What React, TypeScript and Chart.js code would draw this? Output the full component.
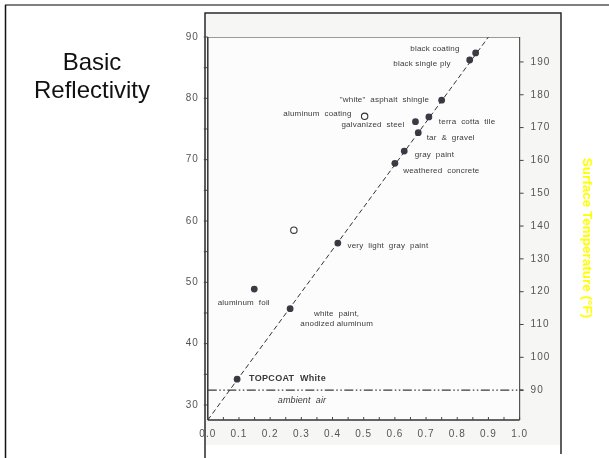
import React, { useEffect, useRef } from 'react';
import { Chart, registerables } from 'chart.js';

Chart.register(...registerables);

// ---- data ----
const materialNames = [
  'black coating',
  'black single ply',
  '"white"  asphalt  shingle',
  'galvanized  steel',
  'terra  cotta  tile',
  'tar  &  gravel',
  'gray  paint',
  'weathered  concrete',
  'very  light  gray  paint',
  'aluminum  foil',
  'white  paint,\nanodized aluminum',
  'TOPCOAT  White',
];
const absorptance = [0.859, 0.84, 0.75, 0.666, 0.709, 0.675, 0.63, 0.6, 0.417, 0.149, 0.264, 0.094];
const surfaceTempC = [87.4, 86.25, 79.7, 76.2, 76.96, 74.4, 71.4, 69.4, 56.4, 48.9, 45.7, 34.2];

const openNames = ['aluminum  coating', ''];
const openAbsorptance = [0.503, 0.276];
const openTempC = [77.07, 58.5];

const fitAbsorptance = [0, 0.9];
const fitTempC = [27.55, 90];

const ambientLabel = 'ambient  air';
const ambientAbsorptance = [0, 1.012];
const ambientTempF = [90, 90];
const ambientLabelAbsorptance = 0.302;

const xTickValues = [0, 0.1, 0.2, 0.3, 0.4, 0.5, 0.6, 0.7, 0.8, 0.9, 1.0];
const xTickMarks = [0, 0.05, 0.1, 0.15, 0.2, 0.25, 0.3, 0.35, 0.4, 0.45, 0.5, 0.55, 0.6, 0.65, 0.7, 0.75, 0.8, 0.85, 0.9, 0.95, 1.0];
const leftTickValues = [30, 40, 50, 60, 70, 80, 90];
const leftTickMarks = [30, 35, 40, 45, 50, 55, 60, 65, 70, 75, 80, 85, 90];
const rightTickValues = [90, 100, 110, 120, 130, 140, 150, 160, 170, 180, 190];

const titleLines = ['Basic', 'Reflectivity'];
const rightAxisTitle = 'Surface Temperature (°F)';

// ---- label placement (pixel offsets from the point) ----
const labelPlacement: Record<string, { dx: number; dy: number; align: CanvasTextAlign; bold?: boolean }> = {
  'black coating': { dx: -16, dy: -4, align: 'right' },
  'black single ply': { dx: -19, dy: 4, align: 'right' },
  '"white"  asphalt  shingle': { dx: -12.5, dy: 0, align: 'right' },
  'galvanized  steel': { dx: -11, dy: 2.8, align: 'right' },
  'terra  cotta  tile': { dx: 10, dy: 5.2, align: 'left' },
  'tar  &  gravel': { dx: 8.4, dy: 5.6, align: 'left' },
  'gray  paint': { dx: 10.4, dy: 4, align: 'left' },
  'weathered  concrete': { dx: 8.3, dy: 7, align: 'left' },
  'very  light  gray  paint': { dx: 9.7, dy: 2.4, align: 'left' },
  'aluminum  foil': { dx: -10.5, dy: 13.3, align: 'center' },
  'white  paint,\nanodized aluminum': { dx: 46.5, dy: 5.3, align: 'center' },
  'TOPCOAT  White': { dx: 12, dy: -0.6, align: 'left', bold: true },
  'aluminum  coating': { dx: -13, dy: -3, align: 'right' },
};

const FONT = '"Liberation Sans", Arial, Helvetica, sans-serif';

const decorPlugin = {
  id: 'decor',
  beforeDraw(chart: any) {
    const { ctx, chartArea: ca, width, height } = chart;
    ctx.save();
    ctx.fillStyle = '#ffffff';
    ctx.fillRect(0, 0, width, height);
    // scanned figure background
    ctx.fillStyle = '#f6f6f5';
    ctx.fillRect(205, 13, 356, 432);
    ctx.fillStyle = '#fcfcfc';
    ctx.fillRect(ca.left, ca.top, ca.right - ca.left, ca.bottom - ca.top);
    // slide frame
    ctx.strokeStyle = '#808080';
    ctx.lineWidth = 2;
    ctx.beginPath();
    ctx.moveTo(5, 5);
    ctx.lineTo(width, 5);
    ctx.stroke();
    ctx.strokeStyle = '#111111';
    ctx.lineWidth = 1.5;
    ctx.beginPath();
    ctx.moveTo(5.5, 5);
    ctx.lineTo(5.5, height);
    ctx.stroke();
    // scan border
    ctx.strokeStyle = '#2a2a2a';
    ctx.lineWidth = 1.5;
    ctx.beginPath();
    ctx.moveTo(205, height);
    ctx.lineTo(205, 13);
    ctx.lineTo(561, 13);
    ctx.lineTo(561, height - 4);
    ctx.stroke();
    ctx.restore();
    ctx.letterSpacing = '1px';
  },
  beforeDatasetsDraw(chart: any) {
    const { ctx, chartArea: ca, scales } = chart;
    ctx.save();
    ctx.letterSpacing = '0px';
    // top frame
    ctx.strokeStyle = '#9a9a9a';
    ctx.lineWidth = 1;
    ctx.beginPath();
    ctx.moveTo(ca.left, ca.top + 0.5);
    ctx.lineTo(ca.right, ca.top + 0.5);
    ctx.stroke();
    // right frame
    ctx.strokeStyle = '#555555';
    ctx.lineWidth = 1.2;
    ctx.beginPath();
    ctx.moveTo(ca.right, ca.top);
    ctx.lineTo(ca.right, ca.bottom);
    ctx.stroke();
    // left frame
    ctx.strokeStyle = '#333333';
    ctx.lineWidth = 1.5;
    ctx.beginPath();
    ctx.moveTo(ca.left, ca.top);
    ctx.lineTo(ca.left, ca.bottom);
    ctx.stroke();
    // bottom frame
    ctx.beginPath();
    ctx.moveTo(ca.left, ca.bottom);
    ctx.lineTo(ca.right, ca.bottom);
    ctx.stroke();
    // tick marks
    ctx.lineWidth = 1;
    ctx.strokeStyle = '#444444';
    ctx.beginPath();
    leftTickMarks.forEach((v) => {
      const y = scales.y.getPixelForValue(v);
      ctx.moveTo(ca.left - 4, y);
      ctx.lineTo(ca.left, y);
    });
    rightTickValues.forEach((v) => {
      const y = scales.y2.getPixelForValue(v);
      ctx.moveTo(ca.right, y);
      ctx.lineTo(ca.right + 4, y);
    });
    xTickMarks.forEach((v) => {
      const x = scales.x.getPixelForValue(v);
      ctx.moveTo(x, ca.bottom - 3);
      ctx.lineTo(x, ca.bottom);
    });
    ctx.stroke();
    ctx.restore();
  },
  afterDraw(chart: any) {
    const { ctx, scales } = chart;
    ctx.save();
    ctx.letterSpacing = '0px';
    // Title
    ctx.fillStyle = '#111111';
    ctx.font = `24px ${FONT}`;
    ctx.textAlign = 'center';
    ctx.textBaseline = 'alphabetic';
    ctx.fillText(titleLines[0], 92, 69.5);
    ctx.fillText(titleLines[1], 92, 97.5);

    // right axis title
    ctx.save();
    ctx.translate(587, 238);
    ctx.rotate(Math.PI / 2);
    ctx.fillStyle = '#ffff00';
    ctx.font = `bold 13.5px ${FONT}`;
    ctx.textAlign = 'center';
    ctx.textBaseline = 'middle';
    ctx.fillText(rightAxisTitle, 0, 0);
    ctx.restore();

    // point labels
    const drawLabel = (name: string, px: number, py: number) => {
      const p = labelPlacement[name];
      if (!name || !p) return;
      ctx.fillStyle = '#3a3a3a';
      ctx.font = p.bold ? `bold 9px ${FONT}` : `8px ${FONT}`;
      ctx.letterSpacing = p.bold ? '0.3px' : '0.2px';
      ctx.textAlign = p.align;
      ctx.textBaseline = 'middle';
      const lines = name.split('\n');
      lines.forEach((ln, i) => {
        ctx.fillText(ln, px + p.dx, py + p.dy + i * 9.7);
      });
    };
    materialNames.forEach((n, i) => {
      drawLabel(n, scales.x.getPixelForValue(absorptance[i]), scales.y.getPixelForValue(surfaceTempC[i]));
    });
    openNames.forEach((n, i) => {
      drawLabel(n, scales.x.getPixelForValue(openAbsorptance[i]), scales.y.getPixelForValue(openTempC[i]));
    });
    // ambient air label
    ctx.fillStyle = '#3a3a3a';
    ctx.font = `italic 9px ${FONT}`;
    ctx.letterSpacing = '0.1px';
    ctx.textAlign = 'center';
    ctx.textBaseline = 'middle';
    ctx.fillText(
      ambientLabel,
      scales.x.getPixelForValue(ambientLabelAbsorptance),
      scales.y2.getPixelForValue(ambientTempF[0]) + 10
    );
    ctx.restore();
  },
};

export default function App() {
  const ref = useRef<HTMLCanvasElement | null>(null);
  useEffect(() => {
    if (!ref.current) return;
    const tickFont = { family: FONT, size: 10 };
    const chart = new Chart(ref.current, {
      type: 'scatter',
      data: {
        datasets: [
          {
            label: 'fit',
            data: fitAbsorptance.map((x, i) => ({ x, y: fitTempC[i] })),
            showLine: true,
            borderColor: '#333333',
            borderWidth: 1,
            borderDash: [5, 3],
            pointRadius: 0,
            yAxisID: 'y',
          },
          {
            label: 'ambient',
            data: ambientAbsorptance.map((x, i) => ({ x, y: ambientTempF[i] })),
            showLine: true,
            borderColor: '#3a3a3a',
            borderWidth: 1.1,
            borderDash: [9, 2.5, 1.5, 2.5, 1.5, 2.5],
            pointRadius: 0,
            yAxisID: 'y2',
            clip: 8,
          },
          {
            label: 'materials',
            data: absorptance.map((x, i) => ({ x, y: surfaceTempC[i] })),
            backgroundColor: '#3b3b46',
            borderColor: '#3b3b46',
            borderWidth: 0,
            pointRadius: 3.4,
            yAxisID: 'y',
          },
          {
            label: 'open',
            data: openAbsorptance.map((x, i) => ({ x, y: openTempC[i] })),
            backgroundColor: '#ffffff',
            borderColor: '#333333',
            borderWidth: 1.1,
            pointRadius: 3.2,
            yAxisID: 'y',
          },
        ],
      },
      options: {
        animation: false,
        responsive: false,
        devicePixelRatio: 1,
        layout: { padding: { top: 37, left: 0, right: 0, bottom: 0 } },
        plugins: { legend: { display: false }, tooltip: { enabled: false } },
        scales: {
          x: {
            type: 'linear',
            position: 'bottom',
            min: 0,
            max: 1,
            grid: { display: false, drawTicks: false },
            border: { display: false },
            afterFit: (s: any) => {
              s.height = 38;
            },
            afterBuildTicks: (s: any) => {
              s.ticks = xTickValues.map((v) => ({ value: v }));
            },
            ticks: {
              padding: 8,
              color: '#555555',
              font: tickFont,
              maxRotation: 0,
              autoSkip: false,
              callback: (v: any) => Number(v).toFixed(1),
            },
          },
          y: {
            type: 'linear',
            position: 'left',
            min: 27.55,
            max: 90,
            grid: { display: false, drawTicks: false },
            border: { display: false },
            afterFit: (s: any) => {
              s.width = 207.8;
            },
            afterBuildTicks: (s: any) => {
              s.ticks = leftTickValues.map((v) => ({ value: v }));
            },
            ticks: { padding: 9, color: '#555555', font: tickFont, autoSkip: false },
          },
          y2: {
            type: 'linear',
            position: 'right',
            min: 80.9,
            max: 197.6,
            grid: { display: false, drawTicks: false },
            border: { display: false },
            afterFit: (s: any) => {
              s.width = 89.4;
            },
            afterBuildTicks: (s: any) => {
              s.ticks = rightTickValues.map((v) => ({ value: v }));
            },
            ticks: { padding: 11, color: '#555555', font: tickFont, autoSkip: false },
          },
        },
      },
      plugins: [decorPlugin],
    } as any);
    return () => chart.destroy();
  }, []);
  return (
    <div style={{ position: 'fixed', left: 0, top: 0, width: 609, height: 458, background: '#fff' }}>
      <canvas ref={ref} width={609} height={458} style={{ display: 'block', width: 609, height: 458 }} />
    </div>
  );
}
